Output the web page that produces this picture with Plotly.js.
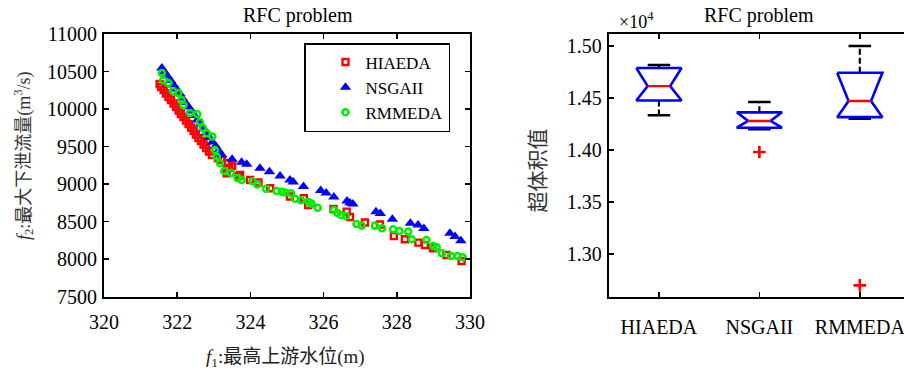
<!DOCTYPE html>
<html>
<head>
<meta charset="utf-8">
<script src="https://cdn.plot.ly/plotly-3.0.1.min.js"></script>
<style>html,body{margin:0;padding:0;background:#fff;overflow:hidden}#chart{width:904px;height:373px}</style>
</head>
<body>
<div id="chart"></div>
<script>
// ---------- Left panel: Pareto fronts (f1 = max upstream water level, f2 = max discharge) ----------
const f1_HIAEDA = [321.52,321.56,321.63,321.69,321.76,321.83,321.90,321.97,322.04,322.10,322.17,322.24,322.31,322.38,322.45,322.51,322.58,322.65,322.72,322.79,322.87,322.95,323.11,323.22,323.36,323.42,323.35,323.50,323.67,323.72,323.99,324.22,324.54,325.08,325.46,325.58,326.27,326.63,326.72,327.13,327.54,327.92,328.22,328.59,328.77,328.99,329.36,329.77];
const f2_HIAEDA = [10334,10294,10254,10207,10161,10121,10074,10028,9981,9934,9894,9848,9801,9755,9708,9661,9615,9575,9528,9482,9435,9388,9348,9322,9282,9215,9145,9242,9109,9122,9055,9022,8945,8835,8812,8722,8669,8633,8562,8489,8462,8309,8265,8220,8189,8146,8056,7976];

const f1_NSGAII = [321.58,321.65,321.73,321.82,321.90,321.98,322.07,322.14,322.22,322.31,322.39,322.47,322.55,322.64,322.72,322.80,322.88,322.96,323.05,323.13,323.22,323.50,323.76,323.90,324.26,324.52,324.81,325.08,325.17,325.45,325.92,326.07,326.28,326.64,326.72,326.80,327.43,327.55,327.88,328.37,328.58,328.74,329.45,329.59,329.75];
const f2_NSGAII = [10547,10494,10441,10381,10321,10267,10207,10147,10088,10028,9974,9914,9854,9801,9741,9681,9621,9561,9508,9448,9388,9331,9291,9264,9211,9166,9109,9055,9029,8969,8915,8882,8829,8776,8749,8736,8633,8609,8532,8478,8456,8409,8345,8303,8247];

const f1_RMMEDA = [321.58,321.62,321.76,321.89,322.03,322.12,322.17,322.35,322.55,322.62,322.70,322.81,322.96,323.03,323.08,323.17,323.29,323.47,323.65,323.76,324.06,324.19,324.43,324.72,324.86,324.95,325.11,325.22,325.38,325.59,325.67,325.84,326.28,326.38,326.48,326.61,326.90,327.04,327.40,327.60,327.90,328.07,328.31,328.41,328.81,329.00,329.09,329.23,329.48,329.66,329.80];
const f2_RMMEDA = [10480,10383,10347,10241,10214,10121,10054,9948,9934,9828,9748,9677,9635,9455,9366,9278,9175,9149,9082,9055,9038,8995,8938,8909,8899,8889,8878,8806,8785,8762,8740,8685,8656,8616,8589,8576,8469,8447,8447,8412,8399,8376,8367,8265,8256,8176,8159,8079,8043,8043,8026];

const f1Ticks = [320, 322, 324, 326, 328, 330];
const f2Ticks = [7500, 8000, 8500, 9000, 9500, 10000, 10500, 11000];

// ---------- Right panel: hypervolume box plots ----------
const algorithms = ['HIAEDA', 'NSGAII', 'RMMEDA'];
const hvUpper  = [14817, 14462, 15000];
const hvQ3     = [14788, 14362, 14743];
const hvMedian = [14614, 14279, 14471];
const hvQ1     = [14476, 14214, 14316];
const hvLower  = [14334, 14199, 14300];
const hvOutlierAlg = ['NSGAII', 'RMMEDA'];
const hvOutlierVal = [13981, 12699];
const hvTickVals = [13000, 13500, 14000, 14500, 15000];
const hvTickText = ['1.30', '1.35', '1.40', '1.45', '1.50'];

// ---------- geometry helpers (pixel -> paper) ----------
const W = 904, H = 373;
const PX = p => p / W;
const PY = p => 1 - p / H;

const FONT = '"Liberation Serif", "Noto Sans CJK SC", serif';

// box plot drawing (MATLAB style notched box)
const bw = 0.225, nw = 0.112, cw = 0.112;
const boxX = [], boxY = [], medX = [], medY = [], whX = [], whY = [], capX = [], capY = [];
algorithms.forEach((a, i) => {
  const c = i + 1;
  boxX.push(c - bw, c + bw, c + nw, c + bw, c - bw, c - nw, c - bw, null);
  boxY.push(hvQ3[i], hvQ3[i], hvMedian[i], hvQ1[i], hvQ1[i], hvMedian[i], hvQ3[i], null);
  medX.push(c - nw, c + nw, null);
  medY.push(hvMedian[i], hvMedian[i], null);
  whX.push(c, c, null, c, c, null);
  whY.push(hvQ3[i], hvUpper[i], null, hvQ1[i], hvLower[i], null);
  capX.push(c - cw, c + cw, null, c - cw, c + cw, null);
  capY.push(hvUpper[i], hvUpper[i], null, hvLower[i], hvLower[i], null);
});
const outX = hvOutlierAlg.map(a => algorithms.indexOf(a) + 1);

const traces = [
  {x: f1_HIAEDA, y: f2_HIAEDA, name: 'HIAEDA', type: 'scatter', mode: 'markers', xaxis: 'x', yaxis: 'y',
   marker: {symbol: 'square-open', size: 6, color: '#ff0000', line: {width: 2.4, color: '#ff0000'}}},
  {x: f1_NSGAII, y: f2_NSGAII, name: 'NSGAII', type: 'scatter', mode: 'markers', xaxis: 'x', yaxis: 'y',
   marker: {symbol: 'triangle-up', size: 10, color: '#0000ff'}},
  {x: f1_RMMEDA, y: f2_RMMEDA, name: 'RMMEDA', type: 'scatter', mode: 'markers', xaxis: 'x', yaxis: 'y',
   marker: {symbol: 'circle-open', size: 6, color: '#00ee00', line: {width: 2.6, color: '#00ee00'}}},
  // whiskers
  {x: whX, y: whY, xaxis: 'x2', yaxis: 'y2', type: 'scatter', mode: 'lines', showlegend: false, hoverinfo: 'skip',
   line: {color: '#000', width: 2.2, dash: '6px,3px'}},
  {x: capX, y: capY, xaxis: 'x2', yaxis: 'y2', type: 'scatter', mode: 'lines', showlegend: false, hoverinfo: 'skip',
   line: {color: '#000', width: 2.4}},
  // boxes
  {x: boxX, y: boxY, xaxis: 'x2', yaxis: 'y2', type: 'scatter', mode: 'lines', showlegend: false, hoverinfo: 'skip',
   line: {color: '#0000ff', width: 2.6}},
  // medians
  {x: medX, y: medY, xaxis: 'x2', yaxis: 'y2', type: 'scatter', mode: 'lines', showlegend: false, hoverinfo: 'skip',
   line: {color: '#ff0000', width: 2.4}},
  // outliers
  {x: outX, y: hvOutlierVal, xaxis: 'x2', yaxis: 'y2', type: 'scatter', mode: 'markers', showlegend: false,
   marker: {symbol: 'cross-thin', size: 9, color: '#ff0000', line: {width: 2.6, color: '#ff0000'}}}
];

const axBase = {
  showline: true, linecolor: '#000', linewidth: 2, mirror: 'ticks',
  ticks: 'inside', ticklen: 5, tickwidth: 1.5, tickcolor: '#000',
  showgrid: false, zeroline: false, fixedrange: true, ticklabeloverflow: 'allow',
  tickfont: {family: FONT, size: 20, color: '#000'}
};

const layout = {
  width: W, height: H,
  margin: {l: 0, r: 0, t: 0, b: 0},
  paper_bgcolor: '#fff', plot_bgcolor: '#fff',
  font: {family: FONT, color: '#000'},
  showlegend: true,
  legend: {x: PX(304), y: PY(43), xanchor: 'left', yanchor: 'top',
           bgcolor: '#fff', bordercolor: '#000', borderwidth: 1.5,
           font: {family: FONT, size: 17, color: '#000'}, indentation: 20, tracegroupgap: 0},
  xaxis: Object.assign({}, axBase, {domain: [PX(104), PX(470)], range: [320, 330], tickvals: f1Ticks, anchor: 'y', ticklabelstandoff: 6}),
  yaxis: Object.assign({}, axBase, {domain: [PY(296.7), PY(34)], range: [7500, 11000], tickvals: f2Ticks, tickformat: 'd', anchor: 'x', ticklabelstandoff: 1}),
  xaxis2: Object.assign({}, axBase, {domain: [PX(608.7), 1], range: [0.5, 3.44], tickvals: [1, 2, 3], ticktext: algorithms, anchor: 'y2', ticklabelstandoff: 11}),
  yaxis2: Object.assign({}, axBase, {domain: [PY(296.7), PY(34)], range: [12590, 15115], tickvals: hvTickVals, ticktext: hvTickText, anchor: 'x2', mirror: false, ticklabelstandoff: 1}),
  annotations: [
    {text: 'RFC problem', xref: 'paper', yref: 'paper', x: PX(298), y: PY(15), xanchor: 'center', yanchor: 'middle', showarrow: false,
     font: {family: FONT, size: 20, color: '#000'}},
    {text: 'RFC problem', xref: 'paper', yref: 'paper', x: PX(759), y: PY(15), xanchor: 'center', yanchor: 'middle', showarrow: false,
     font: {family: FONT, size: 20, color: '#000'}},
    {text: '×10<sup>4</sup>', xref: 'paper', yref: 'paper', x: PX(617), y: PY(20), xanchor: 'left', yanchor: 'middle', showarrow: false,
     font: {family: FONT, size: 18, color: '#000'}},
    {text: '<i>f</i><sub>1</sub>:最高上游水位(m)', xref: 'paper', yref: 'paper', x: PX(285), y: PY(358), xanchor: 'center', yanchor: 'middle', showarrow: false,
     font: {family: FONT, size: 19, color: '#222'}},
    {text: '<i>f</i><sub>2</sub>:最大下泄流量(m<sup>3</sup>/s)', xref: 'paper', yref: 'paper', x: PX(23), y: PY(156), xanchor: 'center', yanchor: 'middle', textangle: -90, showarrow: false,
     font: {family: FONT, size: 18, color: '#333'}},
    {text: '超体积值', xref: 'paper', yref: 'paper', x: PX(537.5), y: PY(171), xanchor: 'center', yanchor: 'middle', textangle: -90, showarrow: false,
     font: {family: FONT, size: 21, color: '#333'}}
  ]
};

Plotly.newPlot('chart', traces, layout, {staticPlot: true, displayModeBar: false});
</script>
</body>
</html>
